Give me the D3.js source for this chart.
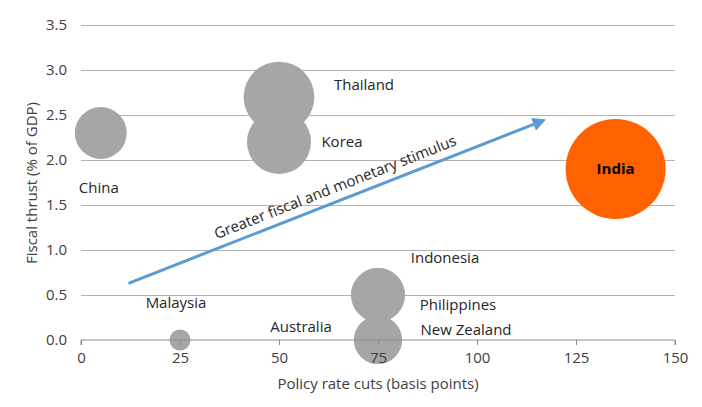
<!DOCTYPE html>
<html>
<head>
<meta charset="utf-8">
<script src="https://cdn.jsdelivr.net/npm/d3@7"></script>
<style>
  html, body { margin: 0; padding: 0; background: #fff; }
  svg { display: block; font-family: "Open Sans", "Noto Sans", sans-serif; }
</style>
</head>
<body>
<svg id="chart" width="702" height="407"></svg>
<script>
// ---- data ----
const countries   = ["India", "Thailand", "Korea", "China", "Indonesia", "Philippines", "Australia", "New Zealand", "Malaysia"];
const rateCuts    = [135, 50, 50, 5, 75, 75, 75, 75, 25];          // basis points
const fiscal      = [1.9, 2.7, 2.2, 2.3, 0.5, 0.5, 0.0, 0.0, 0.0]; // % of GDP
const bubbleSize  = [100, 50, 41, 27, 29, 29, 23, 23, 4.4];
const xTicks      = [0, 25, 50, 75, 100, 125, 150];
const yTicks      = [0, 0.5, 1.0, 1.5, 2.0, 2.5, 3.0, 3.5];
const arrowFrom   = [12, 0.63];
const arrowTo     = [116.8, 2.44];
const arrowLabel  = "Greater fiscal and monetary stimulus";

// ---- layout ----
const svg = d3.select("#chart");
const x = d3.scaleLinear().domain([0, 150]).range([81, 675]);
const y = d3.scaleLinear().domain([0, 3.5]).range([340, 25]);
const r = d3.scaleSqrt().domain([0, 100]).range([0, 50]);
const FS = 15;

// label offsets (pixels, relative to bubble centre)
const labelOffset = {
  "India": [0, 0], "Thailand": [85, -12], "Korea": [63, 0], "China": [-2, 55],
  "Indonesia": [67, -37], "Philippines": [80, 10], "Australia": [-77, -13],
  "New Zealand": [88, -10], "Malaysia": [-4, -37]
};

// gridlines
svg.append("g").selectAll("line").data(yTicks.filter(d => d > 0)).join("line")
  .attr("x1", x(0)).attr("x2", x(150))
  .attr("y1", d => y(d)).attr("y2", d => y(d))
  .attr("stroke", "#b3b3b3").attr("stroke-width", 1).attr("shape-rendering", "crispEdges");

// y axis (labels only)
const yAxis = svg.append("g").attr("transform", `translate(${x(0)},0)`)
  .call(d3.axisLeft(y).tickValues(yTicks).tickFormat(d3.format(".1f")).tickSize(0).tickPadding(14));
yAxis.select(".domain").remove();
yAxis.selectAll("text").attr("font-size", FS).attr("fill", "#404040").attr("font-family", "'Open Sans', sans-serif");

// axis titles
svg.append("text").attr("x", 378).attr("y", 389).attr("text-anchor", "middle")
  .attr("font-size", FS).attr("fill", "#404040").text("Policy rate cuts (basis points)");
svg.append("text").attr("transform", "translate(37,183) rotate(-90)").attr("text-anchor", "middle")
  .attr("font-size", FS).attr("fill", "#404040").text("Fiscal thrust (% of GDP)");

// bubbles
const data = countries.map((c, i) => ({ name: c, x: rateCuts[i], y: fiscal[i], s: bubbleSize[i] }));
svg.append("g").selectAll("circle").data(data.slice().sort((a, b) => (a.name === "India") - (b.name === "India"))).join("circle")
  .attr("cx", d => x(d.x)).attr("cy", d => y(d.y)).attr("r", d => r(d.s))
  .attr("fill", d => d.name === "India" ? "#ff6200" : "#a6a6a6");

// x axis (drawn above bubbles)
const xAxis = svg.append("g").attr("transform", `translate(0,${y(0)})`)
  .call(d3.axisBottom(x).tickValues(xTicks).tickFormat(d3.format("d")).tickSize(5).tickPadding(7));
xAxis.select(".domain").attr("stroke", "#8c8c8c").attr("d", `M${x(0)},5V0H${x(150)}V5`);
xAxis.selectAll(".tick line").attr("stroke", "#8c8c8c");
xAxis.selectAll("text").attr("font-size", FS).attr("fill", "#404040").attr("font-family", "'Open Sans', sans-serif");

// labels
svg.append("g").selectAll("text").data(data).join("text")
  .attr("x", d => x(d.x) + labelOffset[d.name][0])
  .attr("y", d => y(d.y) + labelOffset[d.name][1] + 5)
  .attr("text-anchor", "middle")
  .attr("font-size", d => d.name === "India" ? 15 : FS)
  .attr("font-weight", d => d.name === "India" ? "bold" : "normal")
  .attr("fill", d => d.name === "India" ? "#000" : "#262626")
  .text(d => d.name);

// arrow
const defs = svg.append("defs");
defs.append("marker").attr("id", "ah").attr("viewBox", "0 0 10 10").attr("refX", 8).attr("refY", 5)
  .attr("markerWidth", 4.5).attr("markerHeight", 4.5).attr("orient", "auto")
  .append("path").attr("d", "M0,0L10,5L0,10z").attr("fill", "#5b9bd5");
const ax1 = x(arrowFrom[0]), ay1 = y(arrowFrom[1]), ax2 = x(arrowTo[0]), ay2 = y(arrowTo[1]);
svg.append("line").attr("x1", ax1).attr("y1", ay1).attr("x2", ax2).attr("y2", ay2)
  .attr("stroke", "#5b9bd5").attr("stroke-width", 3).attr("marker-end", "url(#ah)");
const ang = Math.atan2(ay2 - ay1, ax2 - ax1) * 180 / Math.PI;
svg.append("text").attr("transform", `translate(337,192) rotate(${ang})`)
  .attr("text-anchor", "middle").attr("font-size", FS).attr("fill", "#262626").text(arrowLabel);
</script>
</body>
</html>
